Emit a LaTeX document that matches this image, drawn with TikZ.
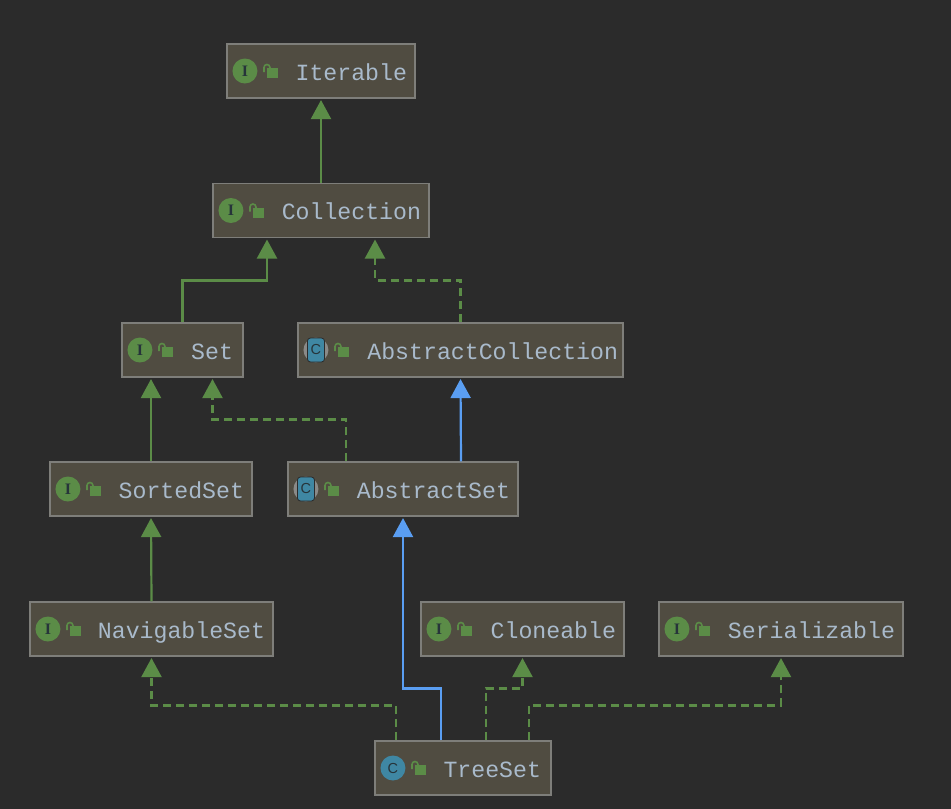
\documentclass[tikz,border=0pt]{standalone}
\usepackage{fontspec}
\usetikzlibrary{arrows.meta}
\newfontfamily\ideafont{Liberation Mono}
\newfontfamily\badgefont{Liberation Serif}
\newfontfamily\classfont{Liberation Sans}

\definecolor{bgdark}{HTML}{2B2B2B}
\definecolor{boxfill}{HTML}{504C41}
\definecolor{boxline}{HTML}{7E7E7A}
\definecolor{nametext}{HTML}{A9BACB}
\definecolor{ifacegreen}{HTML}{5B8C47}
\definecolor{classblue}{HTML}{5A9EF2}
\definecolor{classteal}{HTML}{3F87A3}
\definecolor{badgegrey}{HTML}{8A8A88}
\definecolor{letterdark}{HTML}{26343A}

\begin{document}
\begin{tikzpicture}[x=1pt, y=-1pt,
    umlbox/.style={draw=boxline, fill=boxfill, line width=1.1pt, text=nametext, font=\ideafont\fontsize{23.2}{23.2}\selectfont,
        minimum height=54pt, inner xsep=8pt, inner ysep=0pt, align=right, text height=18.5pt, text depth=0pt},
    ibadge/.style={circle, fill=ifacegreen, minimum size=25pt, inner sep=0pt, text=letterdark, font=\badgefont\bfseries\fontsize{16}{16}\selectfont},
    cbadge/.style={circle, fill=classteal, minimum size=25pt, inner sep=0pt, text=letterdark, font=\classfont\fontsize{14.5}{14.5}\selectfont},
    greybadge/.style={circle, fill=badgegrey, minimum size=25pt, inner sep=0pt},
    tealblock/.style={rectangle, rounded corners=3pt, fill=classteal, draw=bgdark, line width=0.8pt, minimum width=17pt, minimum height=24pt, inner sep=0pt, text=letterdark, font=\classfont\fontsize{14.5}{14.5}\selectfont},
    extends/.style={-{Triangle[width=20pt,length=19pt]}, ifacegreen, line width=2.2pt, shorten >=1.5pt},
    implements/.style={extends, dash pattern=on 8pt off 5pt},
    superclass/.style={extends, classblue},
    lock/.pic={
        \fill[ifacegreen] (-4,-3) rectangle (7,7);
        \draw[ifacegreen, line width=1.6pt] (-7.5,1) -- (-7.5,-3.5) arc[start angle=180, end angle=360, x radius=3pt, y radius=-3pt] -- (-1.5,-2);
    }]
    \useasboundingbox (0,0) rectangle (951,809);
    \fill[bgdark] (0,0) rectangle (951,809);

    % Boxes
    \node[umlbox, text width=172pt] (iterable) at (321,71) {Iterable};
    \node[umlbox, text width=200pt] (collection) at (321,210.5) {Collection};
    \node[umlbox, text width=101pt, inner xsep=10pt] (set) at (182.5,350) {Set};
    \node[umlbox, text width=315pt, inner xsep=5pt] (abstractcollection) at (460.5,350) {AbstractCollection};
    \node[umlbox, text width=186pt] (sortedset) at (151,489) {SortedSet};
    \node[umlbox, text width=214pt] (abstractset) at (403,489) {AbstractSet};
    \node[umlbox, text width=227pt] (navigableset) at (151.5,629) {NavigableSet};
    \node[umlbox, text width=187pt] (cloneable) at (522.5,629) {Cloneable};
    \node[umlbox, text width=228pt] (serializable) at (781,629) {Serializable};
    \node[umlbox, text width=156pt, inner xsep=10pt] (treeset) at (463,768) {TreeSet};

    % Interface badges
    \foreach \boxname in {iterable, collection, set, sortedset, navigableset, cloneable, serializable} {
        \node[ibadge] (\boxname badge) at ([xshift=18.5pt]\boxname.west) {I};
    }

    % Abstract class badges
    \foreach \boxname in {abstractcollection, abstractset} {
        \node[greybadge] (\boxname ring) at ([xshift=18.5pt]\boxname.west) {};
        \node[tealblock] (\boxname badge) at ([xshift=18.5pt]\boxname.west) {C};
    }

    % Class badge
    \node[cbadge] (treesetbadge) at ([xshift=18.5pt]treeset.west) {C};

    % Locks
    \foreach \boxname in {iterable, collection, set, abstractcollection, sortedset, abstractset, navigableset, cloneable, serializable, treeset} {
        \pic at ([xshift=45pt]\boxname.west) {lock};
    }

    % Interface inheritance
    \draw[extends] (collection.north) -- (iterable.south);
    \draw[extends] (set.north) -- ++(0,-42) -| ([xshift=-54pt]collection.south);
    \draw[extends] (sortedset.north) -- ([xshift=-31.5pt]set.south);
    \draw[extends] (navigableset.north) -- (sortedset.south);

    % Implemented interfaces
    \draw[implements] (abstractcollection.north) -- ++(0,-42) -| ([xshift=54pt]collection.south);
    \draw[implements] ([xshift=-57pt]abstractset.north) -- ++(0,-42) -| ([xshift=30pt]set.south);
    \draw[implements] ([xshift=-67pt]treeset.north) -- ++(0,-35) -| (navigableset.south);
    \draw[implements] ([xshift=23pt]treeset.north) -- ++(0,-52) -| (cloneable.south);
    \draw[implements] ([xshift=66pt]treeset.north) -- ++(0,-35) -| (serializable.south);

    % Class inheritance
    \draw[superclass] ([xshift=58pt]abstractset.north) -- (abstractcollection.south);
    \draw[superclass] ([xshift=-22pt]treeset.north) -- ++(0,-52) -| (abstractset.south);
\end{tikzpicture}
\end{document}
